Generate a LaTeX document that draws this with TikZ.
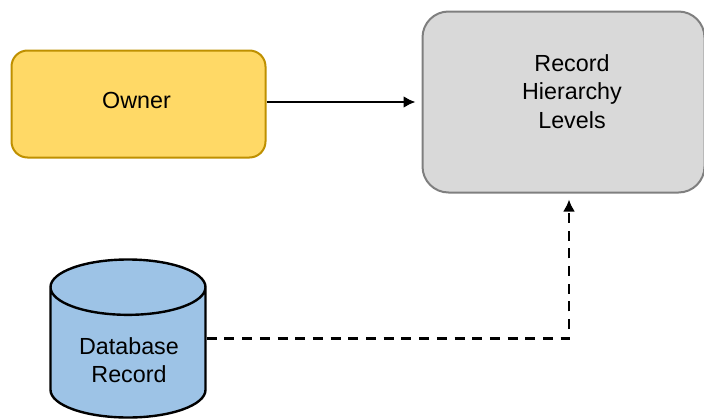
\documentclass[tikz,border=0pt]{standalone}
\usepackage{fontspec}
\setmainfont{Liberation Sans}
\usetikzlibrary{arrows.meta,positioning,shapes.geometric}
\definecolor{ownerfill}{HTML}{FFD966}
\definecolor{ownerline}{HTML}{BF9000}
\definecolor{levelfill}{HTML}{D9D9D9}
\definecolor{levelline}{HTML}{7F7F7F}
\definecolor{recordfill}{HTML}{9DC3E6}
\tikzset{
  box/.style={draw, line width=2pt, align=center},
  link/.style={->, line width=2.4pt, shorten >=6pt}
}
\begin{document}
\begin{tikzpicture}[x=1pt, y=-1pt, >={Latex[length=12pt,width=12pt]}, on grid, font=\fontsize{23.3}{28.5}\selectfont]
\useasboundingbox (0,0) rectangle (704,418);
% Boxes of diagram
\node [box, draw=ownerline, fill=ownerfill, rounded corners=16pt, minimum width=254pt, minimum height=107pt] (owner) at (138.5,104) {};
\node (ownertext) at (136.5,100) {Owner};
\node [box, draw=levelline, fill=levelfill, rounded corners=26pt, minimum width=282pt, minimum height=181pt] (levels) [right=425pt of owner, yshift=2pt] {};
\node [align=center] (levelstext) at (572,91.5) {Record\\Hierarchy\\Levels};
\node [box, line width=2.4pt, draw=black, fill=recordfill, cylinder, shape border rotate=90, aspect=0.52, minimum width=155pt, minimum height=158pt, anchor=shape center] (record) at (128,338.5) {\phantom{Database}\\\phantom{Record}};
\node [align=center] (recordtext) at (129,360) {Database\\Record};
\coordinate (bend) at (569,338.5);
% Arrows of diagram
\draw [link] (owner.east |- levels.west) -- (levels.west);
\draw [link, dash pattern=on 10pt off 7.7pt] (record.east |- bend) -- (bend) -- (bend |- levels.south);
\end{tikzpicture}
\end{document}
